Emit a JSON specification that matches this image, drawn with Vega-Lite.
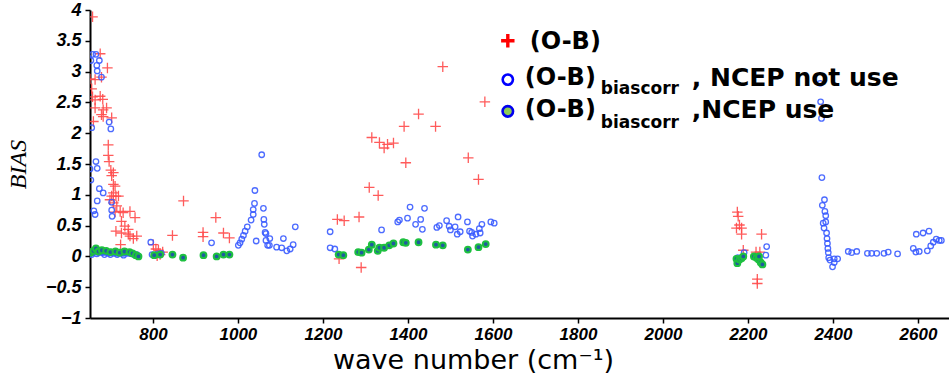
{
  "$schema": "https://vega.github.io/schema/vega-lite/v6.json",
  "width": 859,
  "height": 308,
  "autosize": {"type": "none"},
  "padding": {"left": 90, "top": 10, "right": 0, "bottom": 58},
  "background": "white",
  "config": {"view": {"stroke": null}},
  "datasets": {
    "ob": [
      {"wn": 658, "bias": 3.89}, {"wn": 676, "bias": 3.29}, {"wn": 693, "bias": 3.06}, {"wn": 652, "bias": 2.88},
      {"wn": 664, "bias": 2.87}, {"wn": 679, "bias": 2.91}, {"wn": 656, "bias": 2.72}, {"wn": 658, "bias": 2.59},
      {"wn": 676, "bias": 2.60}, {"wn": 682, "bias": 2.55}, {"wn": 664, "bias": 2.54}, {"wn": 691, "bias": 2.41},
      {"wn": 683, "bias": 2.38}, {"wn": 679, "bias": 2.30}, {"wn": 683, "bias": 2.27}, {"wn": 703, "bias": 2.25},
      {"wn": 660, "bias": 2.19}, {"wn": 664, "bias": 2.41}, {"wn": 695, "bias": 1.81}, {"wn": 695, "bias": 1.64},
      {"wn": 697, "bias": 1.54}, {"wn": 701, "bias": 1.40}, {"wn": 707, "bias": 1.36}, {"wn": 703, "bias": 1.31},
      {"wn": 707, "bias": 1.17}, {"wn": 711, "bias": 1.14}, {"wn": 707, "bias": 1.03}, {"wn": 703, "bias": 0.98},
      {"wn": 713, "bias": 0.98}, {"wn": 699, "bias": 0.92}, {"wn": 719, "bias": 0.98}, {"wn": 707, "bias": 0.87},
      {"wn": 715, "bias": 0.82}, {"wn": 723, "bias": 0.73}, {"wn": 711, "bias": 0.72}, {"wn": 746, "bias": 0.73},
      {"wn": 758, "bias": 0.63}, {"wn": 730, "bias": 0.71}, {"wn": 726, "bias": 0.57}, {"wn": 734, "bias": 0.49},
      {"wn": 742, "bias": 0.44}, {"wn": 713, "bias": 0.41}, {"wn": 726, "bias": 0.38}, {"wn": 746, "bias": 0.33},
      {"wn": 754, "bias": 0.29}, {"wn": 762, "bias": 0.33}, {"wn": 724, "bias": 0.19}, {"wn": 742, "bias": 0.36},
      {"wn": 801, "bias": 0.19}, {"wn": 807, "bias": 0.12}, {"wn": 813, "bias": 0.10}, {"wn": 823, "bias": 0.07},
      {"wn": 810, "bias": 0.01}, {"wn": 817, "bias": 0.03}, {"wn": 846, "bias": 0.34}, {"wn": 872, "bias": 0.90},
      {"wn": 918, "bias": 0.39}, {"wn": 918, "bias": 0.32}, {"wn": 948, "bias": 0.63}, {"wn": 966, "bias": 0.38},
      {"wn": 980, "bias": 0.30}, {"wn": 1234, "bias": 0.60}, {"wn": 1250, "bias": 0.58}, {"wn": 1285, "bias": 0.64},
      {"wn": 1238, "bias": -0.04}, {"wn": 1290, "bias": -0.18}, {"wn": 1309, "bias": 1.12}, {"wn": 1330, "bias": 0.99},
      {"wn": 1315, "bias": 1.93}, {"wn": 1333, "bias": 1.85}, {"wn": 1344, "bias": 1.76}, {"wn": 1352, "bias": 1.82},
      {"wn": 1366, "bias": 1.84}, {"wn": 1391, "bias": 2.11}, {"wn": 1395, "bias": 1.52}, {"wn": 1425, "bias": 2.31},
      {"wn": 1465, "bias": 2.11}, {"wn": 1482, "bias": 3.08}, {"wn": 1542, "bias": 1.60}, {"wn": 1566, "bias": 1.25},
      {"wn": 1581, "bias": 2.51}, {"wn": 2175, "bias": 0.72}, {"wn": 2177, "bias": 0.65}, {"wn": 2180, "bias": 0.51},
      {"wn": 2173, "bias": 0.46}, {"wn": 2185, "bias": 0.46}, {"wn": 2185, "bias": 0.36}, {"wn": 2232, "bias": 0.36},
      {"wn": 2189, "bias": 0.10}, {"wn": 2219, "bias": 0.07}, {"wn": 2228, "bias": 0.07}, {"wn": 2222, "bias": -0.37},
      {"wn": 2222, "bias": -0.44}
    ],
    "nouse": [
      {"wn": 658, "bias": 3.28}, {"wn": 666, "bias": 3.28}, {"wn": 654, "bias": 3.18}, {"wn": 674, "bias": 3.18},
      {"wn": 668, "bias": 3.10}, {"wn": 669, "bias": 3.01}, {"wn": 679, "bias": 2.91}, {"wn": 656, "bias": 2.09},
      {"wn": 697, "bias": 2.18}, {"wn": 701, "bias": 2.07}, {"wn": 666, "bias": 1.54}, {"wn": 652, "bias": 1.42},
      {"wn": 669, "bias": 1.43}, {"wn": 654, "bias": 1.24}, {"wn": 674, "bias": 1.10}, {"wn": 683, "bias": 1.03},
      {"wn": 669, "bias": 0.90}, {"wn": 703, "bias": 0.88}, {"wn": 661, "bias": 0.74}, {"wn": 664, "bias": 0.68},
      {"wn": 703, "bias": 0.75}, {"wn": 704, "bias": 0.65}, {"wn": 795, "bias": 0.23},
      {"wn": 654, "bias": 0.05}, {"wn": 657, "bias": 0.07}, {"wn": 660, "bias": 0.06}, {"wn": 663, "bias": 0.08},
      {"wn": 666, "bias": 0.09}, {"wn": 669, "bias": 0.07}, {"wn": 672, "bias": 0.06}, {"wn": 675, "bias": 0.08},
      {"wn": 678, "bias": 0.07}, {"wn": 681, "bias": 0.06}, {"wn": 684, "bias": 0.07}, {"wn": 687, "bias": 0.08},
      {"wn": 690, "bias": 0.06}, {"wn": 693, "bias": 0.07}, {"wn": 696, "bias": 0.05}, {"wn": 699, "bias": 0.06},
      {"wn": 702, "bias": 0.07}, {"wn": 705, "bias": 0.06}, {"wn": 708, "bias": 0.05}, {"wn": 711, "bias": 0.06},
      {"wn": 714, "bias": 0.07}, {"wn": 717, "bias": 0.05}, {"wn": 720, "bias": 0.06}, {"wn": 723, "bias": 0.07},
      {"wn": 726, "bias": 0.05}, {"wn": 729, "bias": 0.06}, {"wn": 732, "bias": 0.05}, {"wn": 735, "bias": 0.06},
      {"wn": 738, "bias": 0.07}, {"wn": 741, "bias": 0.05}, {"wn": 744, "bias": 0.06}, {"wn": 747, "bias": 0.05},
      {"wn": 750, "bias": 0.04}, {"wn": 753, "bias": 0.05}, {"wn": 756, "bias": 0.03}, {"wn": 759, "bias": 0.02},
      {"wn": 762, "bias": 0.03}, {"wn": 765, "bias": 0.01}, {"wn": 656, "bias": 0.03}, {"wn": 668, "bias": 0.04},
      {"wn": 686, "bias": 0.03}, {"wn": 700, "bias": 0.03}, {"wn": 716, "bias": 0.03}, {"wn": 731, "bias": 0.02},
      {"wn": 798, "bias": 0.03}, {"wn": 805, "bias": 0.02}, {"wn": 812, "bias": 0.04}, {"wn": 820, "bias": 0.05},
      {"wn": 938, "bias": 0.22}, {"wn": 1056, "bias": 1.65}, {"wn": 1040, "bias": 1.07}, {"wn": 1039, "bias": 0.86},
      {"wn": 1036, "bias": 0.76}, {"wn": 1036, "bias": 0.68}, {"wn": 1031, "bias": 0.59}, {"wn": 1022, "bias": 0.48},
      {"wn": 1017, "bias": 0.41}, {"wn": 1013, "bias": 0.34}, {"wn": 1009, "bias": 0.28}, {"wn": 1005, "bias": 0.22},
      {"wn": 1001, "bias": 0.18}, {"wn": 1060, "bias": 0.78}, {"wn": 1061, "bias": 0.60}, {"wn": 1062, "bias": 0.52},
      {"wn": 1064, "bias": 0.39}, {"wn": 1066, "bias": 0.37}, {"wn": 1043, "bias": 0.25}, {"wn": 1066, "bias": 0.26},
      {"wn": 1070, "bias": 0.18}, {"wn": 1075, "bias": 0.29}, {"wn": 1074, "bias": 0.18}, {"wn": 1091, "bias": 0.15},
      {"wn": 1103, "bias": 0.14}, {"wn": 1107, "bias": 0.29}, {"wn": 1115, "bias": 0.09}, {"wn": 1123, "bias": 0.12},
      {"wn": 1130, "bias": 0.19}, {"wn": 1135, "bias": 0.48}, {"wn": 1217, "bias": 0.40}, {"wn": 1217, "bias": 0.14},
      {"wn": 1228, "bias": 0.12}, {"wn": 1338, "bias": 0.43}, {"wn": 1376, "bias": 0.56}, {"wn": 1380, "bias": 0.59},
      {"wn": 1399, "bias": 0.62}, {"wn": 1405, "bias": 0.80}, {"wn": 1418, "bias": 0.52}, {"wn": 1430, "bias": 0.60},
      {"wn": 1434, "bias": 0.44}, {"wn": 1439, "bias": 0.78}, {"wn": 1468, "bias": 0.47}, {"wn": 1474, "bias": 0.50},
      {"wn": 1491, "bias": 0.58}, {"wn": 1497, "bias": 0.49}, {"wn": 1500, "bias": 0.43}, {"wn": 1511, "bias": 0.48},
      {"wn": 1518, "bias": 0.64}, {"wn": 1516, "bias": 0.36}, {"wn": 1523, "bias": 0.40}, {"wn": 1540, "bias": 0.56},
      {"wn": 1545, "bias": 0.41}, {"wn": 1550, "bias": 0.39}, {"wn": 1552, "bias": 0.33}, {"wn": 1560, "bias": 0.36},
      {"wn": 1568, "bias": 0.45}, {"wn": 1570, "bias": 0.38}, {"wn": 1574, "bias": 0.52}, {"wn": 1595, "bias": 0.56},
      {"wn": 1603, "bias": 0.54}, {"wn": 2176, "bias": -0.02}, {"wn": 2182, "bias": -0.04}, {"wn": 2191, "bias": 0.06},
      {"wn": 2223, "bias": -0.03}, {"wn": 2242, "bias": 0.02}, {"wn": 2244, "bias": 0.16},
      {"wn": 2370, "bias": 2.81}, {"wn": 2371, "bias": 2.51}, {"wn": 2373, "bias": 2.24}, {"wn": 2374, "bias": 1.28},
      {"wn": 2380, "bias": 0.92}, {"wn": 2375, "bias": 0.83}, {"wn": 2381, "bias": 0.73}, {"wn": 2383, "bias": 0.66},
      {"wn": 2377, "bias": 0.54}, {"wn": 2383, "bias": 0.56}, {"wn": 2379, "bias": 0.46}, {"wn": 2385, "bias": 0.38},
      {"wn": 2386, "bias": 0.29}, {"wn": 2387, "bias": 0.21}, {"wn": 2388, "bias": 0.13}, {"wn": 2389, "bias": 0.06},
      {"wn": 2390, "bias": -0.02}, {"wn": 2393, "bias": -0.06}, {"wn": 2403, "bias": -0.04}, {"wn": 2399, "bias": -0.17},
      {"wn": 2403, "bias": -0.10}, {"wn": 2411, "bias": -0.04}, {"wn": 2436, "bias": 0.08}, {"wn": 2444, "bias": 0.06},
      {"wn": 2456, "bias": 0.08}, {"wn": 2481, "bias": 0.05}, {"wn": 2491, "bias": 0.05}, {"wn": 2503, "bias": 0.05},
      {"wn": 2520, "bias": 0.05}, {"wn": 2530, "bias": 0.07}, {"wn": 2552, "bias": 0.04}, {"wn": 2589, "bias": 0.13},
      {"wn": 2595, "bias": 0.07}, {"wn": 2603, "bias": 0.08}, {"wn": 2622, "bias": 0.09}, {"wn": 2630, "bias": 0.17},
      {"wn": 2636, "bias": 0.23}, {"wn": 2643, "bias": 0.28}, {"wn": 2650, "bias": 0.26}, {"wn": 2655, "bias": 0.26},
      {"wn": 2596, "bias": 0.36}, {"wn": 2612, "bias": 0.38}, {"wn": 2626, "bias": 0.41}
    ],
    "use": [
      {"wn": 653, "bias": 0.06}, {"wn": 660, "bias": 0.09}, {"wn": 666, "bias": 0.13}, {"wn": 672, "bias": 0.08},
      {"wn": 680, "bias": 0.10}, {"wn": 690, "bias": 0.09}, {"wn": 700, "bias": 0.07}, {"wn": 712, "bias": 0.08},
      {"wn": 722, "bias": 0.06}, {"wn": 733, "bias": 0.08}, {"wn": 745, "bias": 0.07}, {"wn": 752, "bias": 0.05},
      {"wn": 760, "bias": 0.02}, {"wn": 766, "bias": 0.0},
      {"wn": 803, "bias": 0.02}, {"wn": 817, "bias": 0.03}, {"wn": 846, "bias": 0.03}, {"wn": 871, "bias": -0.02},
      {"wn": 919, "bias": 0.02}, {"wn": 950, "bias": 0.0}, {"wn": 966, "bias": 0.03}, {"wn": 980, "bias": 0.03},
      {"wn": 1237, "bias": 0.03}, {"wn": 1248, "bias": 0.02}, {"wn": 1283, "bias": 0.07}, {"wn": 1291, "bias": 0.06},
      {"wn": 1308, "bias": 0.11}, {"wn": 1315, "bias": 0.19}, {"wn": 1329, "bias": 0.09}, {"wn": 1333, "bias": 0.14},
      {"wn": 1344, "bias": 0.14}, {"wn": 1356, "bias": 0.18}, {"wn": 1366, "bias": 0.21}, {"wn": 1389, "bias": 0.23},
      {"wn": 1395, "bias": 0.22}, {"wn": 1425, "bias": 0.23}, {"wn": 1466, "bias": 0.19}, {"wn": 1482, "bias": 0.18},
      {"wn": 1541, "bias": 0.11}, {"wn": 1566, "bias": 0.15}, {"wn": 1583, "bias": 0.20},
      {"wn": 2173, "bias": -0.04}, {"wn": 2175, "bias": -0.11}, {"wn": 2180, "bias": -0.05}, {"wn": 2185, "bias": -0.03},
      {"wn": 2189, "bias": 0.0}, {"wn": 2214, "bias": 0.0}, {"wn": 2220, "bias": -0.02}, {"wn": 2225, "bias": -0.05},
      {"wn": 2230, "bias": -0.10}, {"wn": 2234, "bias": -0.13}, {"wn": 2226, "bias": 0.0}
    ]
  },
  "encoding": {
    "x": {
      "type": "quantitative",
      "scale": {"domain": [652, 2673], "nice": false, "zero": false},
      "axis": {
        "values": [800, 1000, 1200, 1400, 1600, 1800, 2000, 2200, 2400, 2600],
        "format": "d",
        "grid": false,
        "title": "wave number (cm⁻¹)",
        "titleFont": "DejaVu Sans",
        "titleFontSize": 27,
        "titleFontWeight": "normal",
        "titleColor": "black",
        "titleAlign": "center",
        "titleBaseline": "alphabetic",
        "titleX": 383,
        "titleY": 50,
        "labelFont": "Liberation Sans",
        "labelFontSize": 17,
        "labelFontWeight": "bold",
        "labelFontStyle": "italic",
        "labelColor": "black",
        "labelPadding": 3,
        "tickColor": "black",
        "tickSize": 5,
        "tickWidth": 1.5,
        "domainColor": "black",
        "domainWidth": 2
      }
    },
    "y": {
      "type": "quantitative",
      "scale": {"domain": [-1, 4], "nice": false, "zero": false},
      "axis": {
        "values": [-1, -0.5, 0, 0.5, 1, 1.5, 2, 2.5, 3, 3.5, 4],
        "format": "~g",
        "grid": false,
        "title": "BIAS",
        "titleFont": "Liberation Serif",
        "titleFontSize": 24,
        "titleFontWeight": "normal",
        "titleFontStyle": "italic",
        "titleColor": "black",
        "titleAngle": 270,
        "titleAlign": "center",
        "titleBaseline": "alphabetic",
        "titleX": -65,
        "titleY": 154,
        "labelFont": "Liberation Sans",
        "labelFontSize": 18,
        "labelFontWeight": "bold",
        "labelFontStyle": "italic",
        "labelColor": "black",
        "labelPadding": 4,
        "tickColor": "black",
        "tickSize": 5,
        "tickWidth": 1.5,
        "domainColor": "black",
        "domainWidth": 2
      }
    }
  },
  "layer": [
    {
      "mark": {"type": "rule", "color": "#222", "strokeWidth": 2},
      "encoding": {"y": {"datum": 0}}
    },
    {
      "mark": {"type": "rule", "color": "#222", "strokeWidth": 2.5},
      "encoding": {"y": {"datum": 4}}
    },
    {
      "data": {"name": "ob"},
      "mark": {"type": "point", "shape": "M-1,0L1,0M0,-1L0,1", "filled": false, "stroke": "#ff4a4a", "strokeWidth": 1.3, "size": 110, "opacity": 0.9, "clip": true},
      "encoding": {"x": {"field": "wn", "type": "quantitative"}, "y": {"field": "bias", "type": "quantitative"}}
    },
    {
      "data": {"name": "nouse"},
      "mark": {"type": "point", "shape": "circle", "filled": false, "stroke": "#3a5cff", "strokeWidth": 1.3, "size": 30, "opacity": 0.9, "clip": true},
      "encoding": {"x": {"field": "wn", "type": "quantitative"}, "y": {"field": "bias", "type": "quantitative"}}
    },
    {
      "data": {"name": "use"},
      "mark": {"type": "point", "shape": "circle", "filled": true, "fill": "#1f5aa0", "stroke": "#1ec040", "strokeWidth": 2, "size": 34, "opacity": 1, "clip": true},
      "encoding": {"x": {"field": "wn", "type": "quantitative"}, "y": {"field": "bias", "type": "quantitative"}}
    },
    {
      "data": {"values": [{"item": "ob"}]},
      "mark": {"type": "point", "shape": "M-1,0L1,0M0,-1L0,1", "filled": false, "stroke": "#ff0000", "strokeWidth": 3.4, "size": 180, "opacity": 1},
      "encoding": {"x": {"datum": 1635}, "y": {"datum": 3.5}}
    },
    {
      "data": {"values": [{"item": "nouse"}]},
      "mark": {"type": "point", "shape": "circle", "filled": false, "stroke": "#0000ff", "strokeWidth": 2.6, "size": 105, "opacity": 1},
      "encoding": {"x": {"datum": 1635}, "y": {"datum": 2.87}}
    },
    {
      "data": {"values": [{"item": "use"}]},
      "mark": {"type": "point", "shape": "circle", "filled": true, "fill": "#8ccb55", "stroke": "#0000ee", "strokeWidth": 2.6, "size": 110, "opacity": 1},
      "encoding": {"x": {"datum": 1635}, "y": {"datum": 2.355}}
    },
    {
      "data": {"values": [{"t": "(O-B)"}]},
      "mark": {"type": "text", "align": "left", "baseline": "middle", "dx": 22, "dy": 1, "font": "DejaVu Sans", "fontSize": 24, "fontWeight": "bold", "color": "black"},
      "encoding": {"x": {"datum": 1635}, "y": {"datum": 3.5}, "text": {"field": "t"}}
    },
    {
      "data": {"values": [{"t": "(O-B)"}]},
      "mark": {"type": "text", "align": "left", "baseline": "middle", "dx": 17, "dy": -2, "font": "DejaVu Sans", "fontSize": 24, "fontWeight": "bold", "color": "black"},
      "encoding": {"x": {"datum": 1635}, "y": {"datum": 2.87}, "text": {"field": "t"}}
    },
    {
      "data": {"values": [{"t": "biascorr"}]},
      "mark": {"type": "text", "align": "left", "baseline": "middle", "dx": 93, "dy": 9, "font": "DejaVu Sans", "fontSize": 17, "fontWeight": "bold", "color": "black"},
      "encoding": {"x": {"datum": 1635}, "y": {"datum": 2.87}, "text": {"field": "t"}}
    },
    {
      "data": {"values": [{"t": ", NCEP not use"}]},
      "mark": {"type": "text", "align": "left", "baseline": "middle", "dx": 184, "dy": -2, "font": "DejaVu Sans", "fontSize": 25, "fontWeight": "bold", "color": "black"},
      "encoding": {"x": {"datum": 1635}, "y": {"datum": 2.87}, "text": {"field": "t"}}
    },
    {
      "data": {"values": [{"t": "(O-B)"}]},
      "mark": {"type": "text", "align": "left", "baseline": "middle", "dx": 17, "dy": -1, "font": "DejaVu Sans", "fontSize": 24, "fontWeight": "bold", "color": "black"},
      "encoding": {"x": {"datum": 1635}, "y": {"datum": 2.355}, "text": {"field": "t"}}
    },
    {
      "data": {"values": [{"t": "biascorr"}]},
      "mark": {"type": "text", "align": "left", "baseline": "middle", "dx": 93, "dy": 12, "font": "DejaVu Sans", "fontSize": 17, "fontWeight": "bold", "color": "black"},
      "encoding": {"x": {"datum": 1635}, "y": {"datum": 2.355}, "text": {"field": "t"}}
    },
    {
      "data": {"values": [{"t": ",NCEP use"}]},
      "mark": {"type": "text", "align": "left", "baseline": "middle", "dx": 184, "dy": -1, "font": "DejaVu Sans", "fontSize": 25, "fontWeight": "bold", "color": "black"},
      "encoding": {"x": {"datum": 1635}, "y": {"datum": 2.355}, "text": {"field": "t"}}
    }
  ]
}
